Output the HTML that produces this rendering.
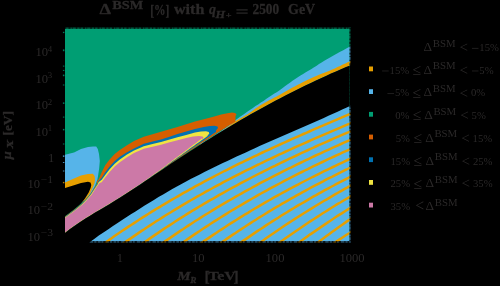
<!DOCTYPE html>
<html><head><meta charset="utf-8"><title>chart</title>
<style>html,body{margin:0;padding:0;background:#000;overflow:hidden}svg{display:block}text{font-family:"Liberation Serif",serif;fill:#2c2a2a}text[font-weight=bold]{stroke:#2c2a2a;stroke-width:0.3px}</style></head>
<body><svg width="500" height="286" viewBox="0 0 500 286">
<rect width="500" height="286" fill="#000"/>
<defs><clipPath id="plot"><rect x="65.00" y="28.80" width="284.50" height="212.30"/></clipPath>
<clipPath id="plotbig"><rect x="65.00" y="27.20" width="285.80" height="215.60"/></clipPath><clipPath id="lowclip"><polygon points="85.0,245.8 89.6,242.3 94.2,238.9 98.8,235.6 103.4,232.5 108.0,229.4 112.6,226.3 117.2,223.3 121.7,220.3 126.3,217.3 130.9,214.3 135.5,211.4 140.1,208.4 144.7,205.5 149.3,202.7 153.9,199.9 158.5,197.1 163.1,194.4 167.7,191.7 172.3,189.1 176.9,186.6 181.5,184.1 186.1,181.6 190.6,179.1 195.2,176.8 199.8,174.4 204.4,172.1 209.0,169.8 213.6,167.5 218.2,165.3 222.8,163.1 227.4,160.9 232.0,158.7 236.6,156.6 241.2,154.5 245.8,152.4 250.4,150.3 254.9,148.2 259.5,146.1 264.1,144.1 268.7,142.1 273.3,140.0 277.9,138.0 282.5,136.0 287.1,134.0 291.7,132.0 296.3,130.0 300.9,128.0 305.5,125.9 310.1,123.9 314.7,121.9 319.3,119.9 323.8,117.9 328.4,115.8 333.0,113.8 337.6,111.7 342.2,109.6 346.8,107.5 351.4,105.4 356.0,103.3 356.0,246.0 85.0,246.0" fill="#000" /></clipPath>
<g id="content">
<rect x="55" y="20" width="305" height="230" fill="#009E73"/>
<polygon points="200.0,143.6 202.6,142.3 205.3,140.9 207.9,139.4 210.6,137.8 213.2,136.2 215.9,134.5 218.5,132.7 221.2,131.0 223.8,129.1 226.4,127.2 229.1,125.2 231.7,123.0 234.4,120.8 237.0,118.9 239.7,117.0 242.3,115.2 244.9,113.4 247.6,111.6 250.2,109.7 252.9,107.9 255.5,106.1 258.2,104.4 260.8,102.6 263.5,100.9 266.1,99.1 268.7,97.3 271.4,95.5 274.0,93.8 276.7,92.2 279.3,90.5 282.0,88.6 284.6,86.6 287.3,84.6 289.9,82.7 292.5,80.8 295.2,78.9 297.8,77.2 300.5,75.5 303.1,73.9 305.8,72.3 308.4,70.8 311.1,69.2 313.7,67.6 316.3,65.9 319.0,64.1 321.6,62.4 324.3,60.8 326.9,59.2 329.6,57.7 332.2,56.2 334.8,54.7 337.5,53.2 340.1,51.8 342.8,50.4 345.4,48.9 348.1,47.5 350.7,46.0 353.4,44.5 356.0,43.0 356.0,63.0 353.4,64.1 350.7,65.2 348.1,66.2 345.4,67.3 342.8,68.5 340.1,69.6 337.5,70.7 334.8,71.9 332.2,73.1 329.6,74.2 326.9,75.4 324.3,76.6 321.6,77.8 319.0,79.0 316.3,80.3 313.7,81.5 311.1,82.8 308.4,84.0 305.8,85.3 303.1,86.6 300.5,87.9 297.8,89.2 295.2,90.5 292.5,91.9 289.9,93.2 287.3,94.6 284.6,95.9 282.0,97.3 279.3,98.7 276.7,100.1 274.0,101.5 271.4,102.9 268.7,104.3 266.1,105.7 263.5,107.2 260.8,108.7 258.2,110.1 255.5,111.6 252.9,113.1 250.2,114.6 247.6,116.1 244.9,117.6 242.3,119.1 239.7,120.7 237.0,122.2 234.4,123.8 231.7,125.3 229.1,126.9 226.4,128.5 223.8,130.1 221.2,131.7 218.5,133.3 215.9,134.9 213.2,136.5 210.6,138.2 207.9,139.8 205.3,141.5 202.6,143.1 200.0,144.8" fill="#56B4E9" />
<polygon points="200.0,144.3 202.6,142.9 205.3,141.4 207.9,139.9 210.6,138.3 213.2,136.7 215.9,135.0 218.5,133.3 221.2,131.6 223.8,129.8 226.4,128.0 229.1,126.0 231.7,123.9 234.4,121.9 237.0,120.2 239.7,118.7 242.3,117.3 244.9,115.8 247.6,114.2 250.2,112.4 252.9,110.5 255.5,108.6 258.2,106.8 260.8,105.1 263.5,103.5 266.1,102.1 268.7,100.6 271.4,99.2 274.0,97.8 276.7,96.4 279.3,94.9 282.0,93.4 284.6,91.9 287.3,90.5 289.9,89.0 292.5,87.6 295.2,86.2 297.8,84.8 300.5,83.4 303.1,82.0 305.8,80.7 308.4,79.4 311.1,78.2 313.7,77.0 316.3,75.9 319.0,74.8 321.6,73.8 324.3,72.8 326.9,71.8 329.6,70.7 332.2,69.5 334.8,68.4 337.5,67.1 340.1,65.9 342.8,64.6 345.4,63.4 348.1,62.1 350.7,60.9 353.4,59.7 356.0,58.5 356.0,63.0 353.4,64.1 350.7,65.2 348.1,66.2 345.4,67.3 342.8,68.5 340.1,69.6 337.5,70.7 334.8,71.9 332.2,73.1 329.6,74.2 326.9,75.4 324.3,76.6 321.6,77.8 319.0,79.0 316.3,80.3 313.7,81.5 311.1,82.8 308.4,84.0 305.8,85.3 303.1,86.6 300.5,87.9 297.8,89.2 295.2,90.5 292.5,91.9 289.9,93.2 287.3,94.6 284.6,95.9 282.0,97.3 279.3,98.7 276.7,100.1 274.0,101.5 271.4,102.9 268.7,104.3 266.1,105.7 263.5,107.2 260.8,108.7 258.2,110.1 255.5,111.6 252.9,113.1 250.2,114.6 247.6,116.1 244.9,117.6 242.3,119.1 239.7,120.7 237.0,122.2 234.4,123.8 231.7,125.3 229.1,126.9 226.4,128.5 223.8,130.1 221.2,131.7 218.5,133.3 215.9,134.9 213.2,136.5 210.6,138.2 207.9,139.8 205.3,141.5 202.6,143.1 200.0,144.8" fill="#E69F00" />
<polygon points="60.0,155.0 65.0,154.7 74.0,152.6 81.0,149.0 88.0,147.0 93.0,146.5 96.2,146.6 97.8,149.0 99.0,154.0 99.8,161.0 99.2,168.0 98.2,175.0 97.3,180.0 95.0,186.0 91.0,193.0 85.0,200.0 60.0,215.0" fill="#56B4E9" />
<polygon points="60.0,184.5 65.0,182.5 74.0,178.6 81.0,175.6 88.0,174.0 92.9,173.7 94.6,176.0 95.0,179.0 94.6,183.0 93.0,187.0 90.0,193.5 85.0,200.0 60.0,216.0" fill="#E69F00" />
<polygon points="60.0,190.0 65.0,188.0 74.0,185.3 81.0,183.0 88.0,181.8 90.5,182.5 91.3,185.0 90.6,188.0 88.7,192.5 85.0,198.6 81.0,203.6 74.0,209.5 65.0,216.3 60.0,220.0" fill="#000" />
<polygon points="96.8,181.5 98.9,179.0 101.7,172.2 105.2,165.2 109.6,159.6 114.7,154.0 119.8,150.0 127.0,145.3 134.0,141.0 143.8,136.7 152.5,134.2 161.0,131.8 168.8,129.5 177.5,127.0 186.2,124.3 195.0,121.6 203.8,119.3 212.5,117.1 221.2,114.6 227.5,113.2 232.0,112.6 235.0,112.9 236.5,114.2 235.5,116.2 235.5,121.5 233.3,122.9 231.1,124.2 228.8,125.6 226.6,127.0 224.4,128.4 222.2,129.8 219.9,131.2 217.7,132.6 215.5,134.0 213.3,135.4 211.1,136.9 208.8,138.3 206.6,139.7 204.4,141.2 202.2,142.6 200.0,144.1 197.7,145.5 195.5,147.0 193.3,148.5 191.1,149.9 188.8,151.4 186.6,152.9 184.4,154.4 182.2,155.9 180.0,157.4 177.7,158.9 175.5,160.4 173.3,161.9 171.1,163.4 168.9,164.9 166.6,166.4 164.4,168.0 162.2,169.5 160.0,171.0 157.7,172.5 155.5,174.1 153.3,175.6 151.1,177.1 148.9,178.6 146.6,180.1 144.4,181.6 142.2,183.1 140.0,184.6 137.8,186.1 135.5,187.5 133.3,189.0 131.1,190.5 128.9,191.9 126.6,193.3 124.4,194.8 122.2,196.2 120.0,197.6 117.8,199.0 115.5,200.4 113.3,201.8 111.1,203.1 108.9,204.5 106.7,205.8 104.4,207.1 102.2,208.4 100.0,209.8 97.8,211.1 95.5,212.4 93.3,213.7 91.1,215.1 88.9,216.4 86.7,217.8 84.4,219.2 82.2,220.7 80.0,222.1 77.8,223.6 75.6,225.1 73.3,226.7 71.1,228.3 68.9,230.0 66.7,231.6 64.4,233.4 62.2,235.1 60.0,237.0 60.3,220.8 65.3,216.6 74.3,209.8 81.4,203.9 85.4,199.8 90.4,193.9 94.4,187.7 96.9,183.9" fill="#D55E00" />
<polygon points="98.2,181.5 101.7,177.8 105.2,172.2 109.6,166.6 114.7,161.0 119.8,156.8 127.0,152.3 134.0,148.4 143.8,143.8 152.5,141.5 161.0,139.4 168.8,137.0 177.5,134.0 186.2,131.5 195.0,128.9 203.8,127.0 210.0,126.0 214.5,125.8 217.5,126.5 218.0,128.0 216.0,130.5 216.0,131.9 214.0,133.2 212.1,134.6 210.1,135.9 208.1,137.2 206.1,138.6 204.2,139.9 202.2,141.3 200.2,142.6 198.2,144.0 196.3,145.3 194.3,146.7 192.3,148.1 190.3,149.4 188.4,150.8 186.4,152.2 184.4,153.5 182.4,154.9 180.5,156.3 178.5,157.7 176.5,159.0 174.5,160.4 172.6,161.8 170.6,163.2 168.6,164.6 166.6,166.0 164.7,167.4 162.7,168.8 160.7,170.1 158.7,171.5 156.8,172.9 154.8,174.3 152.8,175.7 150.8,177.0 148.9,178.4 146.9,179.8 144.9,181.1 142.9,182.4 141.0,183.8 139.0,185.1 137.0,186.4 135.0,187.7 133.1,189.0 131.1,190.3 129.1,191.6 127.1,192.9 125.2,194.2 123.2,195.4 121.2,196.7 119.2,197.9 117.3,199.2 115.3,200.4 113.3,201.6 111.3,202.8 109.4,204.0 107.4,205.2 105.4,206.4 103.4,207.6 101.5,208.7 99.5,209.9 97.5,211.1 95.5,212.2 93.6,213.4 91.6,214.6 89.6,215.8 87.6,217.0 85.7,218.3 83.7,219.5 81.7,220.8 79.7,222.1 77.8,223.5 75.8,224.8 73.8,226.2 71.8,227.6 69.9,229.1 67.9,230.5 65.9,232.1 63.9,233.6 62.0,235.2 60.0,236.8 60.4,221.0 65.5,216.8 74.5,210.0 81.6,204.2 85.6,200.0 90.7,194.1 94.7,188.0 97.2,184.2" fill="#0072B2" />
<polygon points="98.7,182.0 101.7,179.8 105.2,174.9 109.6,169.3 114.7,163.7 119.8,159.4 127.0,154.5 134.0,150.5 143.8,146.2 152.5,144.0 161.0,142.0 168.8,139.8 177.5,137.3 186.2,134.9 195.0,132.6 201.0,131.5 206.0,131.2 208.8,132.0 209.3,133.5 207.5,135.8 207.5,136.1 205.6,137.4 203.8,138.7 201.9,140.1 200.0,141.4 198.2,142.8 196.3,144.1 194.4,145.4 192.6,146.8 190.7,148.1 188.8,149.5 187.0,150.8 185.1,152.2 183.2,153.5 181.4,154.9 179.5,156.2 177.6,157.6 175.8,158.9 173.9,160.3 172.0,161.6 170.2,163.0 168.3,164.3 166.4,165.7 164.6,167.0 162.7,168.4 160.8,169.7 159.0,171.0 157.1,172.4 155.2,173.7 153.4,175.0 151.5,176.3 149.6,177.7 147.8,179.0 145.9,180.3 144.0,181.5 142.2,182.8 140.3,184.1 138.4,185.3 136.6,186.6 134.7,187.8 132.8,189.0 130.9,190.2 129.1,191.5 127.2,192.7 125.3,193.9 123.5,195.1 121.6,196.3 119.7,197.5 117.9,198.6 116.0,199.8 114.1,201.0 112.3,202.1 110.4,203.2 108.5,204.4 106.7,205.5 104.8,206.6 102.9,207.7 101.1,208.8 99.2,209.9 97.3,211.0 95.5,212.1 93.6,213.3 91.7,214.4 89.9,215.5 88.0,216.7 86.1,217.8 84.3,219.0 82.4,220.2 80.5,221.5 78.7,222.7 76.8,224.0 74.9,225.3 73.1,226.6 71.2,227.9 69.3,229.3 67.5,230.7 65.6,232.2 63.7,233.6 61.9,235.1 60.0,236.7 60.6,221.2 65.7,216.9 74.8,210.2 81.8,204.4 85.9,200.2 90.9,194.4 95.0,188.2 97.5,184.5" fill="#F0E442" />
<polygon points="99.5,183.0 101.7,182.3 105.2,177.5 109.6,171.9 114.7,166.5 119.8,162.2 127.0,157.2 134.0,153.0 143.8,148.8 152.5,146.7 161.0,144.8 168.8,142.6 177.5,140.3 186.2,138.0 193.0,136.6 199.0,136.0 202.5,136.4 203.5,137.5 202.0,139.6 202.0,138.3 200.2,139.7 198.4,141.0 196.6,142.4 194.8,143.8 193.0,145.1 191.2,146.5 189.4,147.8 187.6,149.2 185.8,150.5 184.0,151.9 182.2,153.2 180.4,154.6 178.6,155.9 176.8,157.3 175.0,158.6 173.2,160.0 171.4,161.3 169.6,162.7 167.8,164.0 166.1,165.4 164.3,166.7 162.5,168.0 160.7,169.4 158.9,170.7 157.1,172.0 155.3,173.3 153.5,174.6 151.7,175.9 149.9,177.2 148.1,178.5 146.3,179.8 144.5,181.0 142.7,182.2 140.9,183.5 139.1,184.7 137.3,185.9 135.5,187.1 133.7,188.2 131.9,189.4 130.1,190.6 128.3,191.8 126.5,192.9 124.7,194.1 122.9,195.2 121.1,196.4 119.3,197.5 117.5,198.7 115.7,199.8 113.9,200.9 112.1,202.0 110.3,203.1 108.5,204.2 106.7,205.2 104.9,206.3 103.1,207.4 101.3,208.4 99.5,209.5 97.7,210.6 95.9,211.7 94.2,212.7 92.4,213.8 90.6,214.9 88.8,216.0 87.0,217.1 85.2,218.3 83.4,219.4 81.6,220.6 79.8,221.8 78.0,223.0 76.2,224.2 74.4,225.5 72.6,226.7 70.8,228.1 69.0,229.4 67.2,230.7 65.4,232.1 63.6,233.5 61.8,235.0 60.0,236.5 60.9,221.5 66.0,217.3 75.1,210.6 82.3,204.8 86.3,200.7 91.4,194.9 95.5,188.7 98.0,185.0" fill="#CC79A7" />
<polygon points="60.0,237.0 65.0,232.9 70.0,229.1 75.1,225.5 80.1,222.1 85.1,218.8 90.1,215.7 95.1,212.6 100.1,209.7 105.2,206.7 110.2,203.7 115.2,200.6 120.2,197.5 125.2,194.3 130.2,191.0 135.3,187.7 140.3,184.4 145.3,181.0 150.3,177.7 155.3,174.3 160.3,170.9 165.4,167.5 170.4,164.1 175.4,160.8 180.4,157.5 185.4,154.2 190.4,150.9 195.5,147.7 200.5,144.5 205.5,141.3 210.5,138.2 215.5,135.1 220.5,132.0 225.6,129.0 230.6,126.0 235.6,123.0 240.6,120.1 245.6,117.2 250.6,114.3 255.7,111.5 260.7,108.7 265.7,106.0 270.7,103.3 275.7,100.6 280.7,97.9 285.8,95.3 290.8,92.8 295.8,90.2 300.8,87.7 305.8,85.3 310.8,82.9 315.9,80.5 320.9,78.2 325.9,75.9 330.9,73.6 335.9,71.4 340.9,69.2 346.0,67.1 351.0,65.0 356.0,63.0 356.0,246.0 60.0,246.0" fill="#000" />
<polygon points="85.0,245.8 89.6,242.3 94.2,238.9 98.8,235.6 103.4,232.5 108.0,229.4 112.6,226.3 117.2,223.3 121.7,220.3 126.3,217.3 130.9,214.3 135.5,211.4 140.1,208.4 144.7,205.5 149.3,202.7 153.9,199.9 158.5,197.1 163.1,194.4 167.7,191.7 172.3,189.1 176.9,186.6 181.5,184.1 186.1,181.6 190.6,179.1 195.2,176.8 199.8,174.4 204.4,172.1 209.0,169.8 213.6,167.5 218.2,165.3 222.8,163.1 227.4,160.9 232.0,158.7 236.6,156.6 241.2,154.5 245.8,152.4 250.4,150.3 254.9,148.2 259.5,146.1 264.1,144.1 268.7,142.1 273.3,140.0 277.9,138.0 282.5,136.0 287.1,134.0 291.7,132.0 296.3,130.0 300.9,128.0 305.5,125.9 310.1,123.9 314.7,121.9 319.3,119.9 323.8,117.9 328.4,115.8 333.0,113.8 337.6,111.7 342.2,109.6 346.8,107.5 351.4,105.4 356.0,103.3 356.0,246.0 85.0,246.0" fill="#56B4E9" />
<polyline points="96.0,249.3 98.9,247.2 101.8,245.1 104.8,243.0 107.7,240.9 110.6,238.9 113.5,236.8 116.4,234.8 119.4,232.8 122.3,230.8 125.2,228.9 128.1,226.9 131.1,225.0 134.0,223.1 136.9,221.2 139.8,219.3 142.7,217.4 145.7,215.6 148.6,213.8 151.5,211.9 154.4,210.1 157.3,208.3 160.3,206.6 163.2,204.8 166.1,203.1 169.0,201.4 172.0,199.6 174.9,198.0 177.8,196.3 180.7,194.6 183.6,192.9 186.6,191.3 189.5,189.7 192.4,188.1 195.3,186.4 198.2,184.9 201.2,183.3 204.1,181.7 207.0,180.1 209.9,178.6 212.9,177.1 215.8,175.5 218.7,174.0 221.6,172.5 224.5,171.0 227.5,169.6 230.4,168.1 233.3,166.6 236.2,165.2 239.1,163.7 242.1,162.3 245.0,160.9 247.9,159.5 250.8,158.1 253.8,156.7 256.7,155.3 259.6,153.9 262.5,152.5 265.4,151.2 268.4,149.8 271.3,148.5 274.2,147.1 277.1,145.8 280.0,144.5 283.0,143.1 285.9,141.8 288.8,140.5 291.7,139.2 294.7,137.9 297.6,136.6 300.5,135.3 303.4,134.0 306.3,132.8 309.3,131.5 312.2,130.2 315.1,128.9 318.0,127.7 320.9,126.4 323.9,125.2 326.8,123.9 329.7,122.7 332.6,121.4 335.6,120.2 338.5,118.9 341.4,117.7 344.3,116.4 347.2,115.2 350.2,114.0 353.1,112.7 356.0,111.5" fill="none" stroke="#E69F00" stroke-width="2.50" clip-path="url(#lowclip)"/>
<polyline points="115.3,249.3 118.3,247.2 121.2,245.1 124.1,243.0 127.0,240.9 130.0,238.9 132.9,236.9 135.8,234.9 138.7,232.9 141.6,230.9 144.6,229.0 147.5,227.0 150.4,225.1 153.3,223.2 156.2,221.3 159.2,219.5 162.1,217.6 165.0,215.8 167.9,214.0 170.9,212.2 173.8,210.4 176.7,208.6 179.6,206.9 182.5,205.1 185.5,203.4 188.4,201.7 191.3,200.0 194.2,198.3 197.1,196.7 200.1,195.0 203.0,193.4 205.9,191.7 208.8,190.1 211.8,188.5 214.7,186.9 217.6,185.3 220.5,183.8 223.4,182.2 226.4,180.7 229.3,179.2 232.2,177.6 235.1,176.1 238.0,174.6 241.0,173.2 243.9,171.7 246.8,170.2 249.7,168.8 252.7,167.3 255.6,165.9 258.5,164.5 261.4,163.0 264.3,161.6 267.3,160.2 270.2,158.9 273.1,157.5 276.0,156.1 278.9,154.7 281.9,153.4 284.8,152.0 287.7,150.7 290.6,149.4 293.6,148.0 296.5,146.7 299.4,145.4 302.3,144.1 305.2,142.8 308.2,141.5 311.1,140.2 314.0,138.9 316.9,137.6 319.8,136.4 322.8,135.1 325.7,133.8 328.6,132.6 331.5,131.3 334.5,130.1 337.4,128.8 340.3,127.6 343.2,126.3 346.1,125.1 349.1,123.9 352.0,122.6 354.9,121.4 357.8,120.1" fill="none" stroke="#E69F00" stroke-width="2.50" clip-path="url(#lowclip)"/>
<polyline points="134.7,249.3 137.6,247.2 140.5,245.1 143.5,243.0 146.4,240.9 149.3,238.9 152.2,236.9 155.1,234.9 158.1,232.9 161.0,230.9 163.9,228.9 166.8,227.0 169.8,225.1 172.7,223.2 175.6,221.3 178.5,219.4 181.4,217.6 184.4,215.8 187.3,213.9 190.2,212.1 193.1,210.3 196.0,208.6 199.0,206.8 201.9,205.1 204.8,203.3 207.7,201.6 210.7,199.9 213.6,198.3 216.5,196.6 219.4,194.9 222.3,193.3 225.3,191.7 228.2,190.0 231.1,188.4 234.0,186.8 236.9,185.3 239.9,183.7 242.8,182.1 245.7,180.6 248.6,179.1 251.6,177.5 254.5,176.0 257.4,174.5 260.3,173.0 263.2,171.6 266.2,170.1 269.1,168.6 272.0,167.2 274.9,165.8 277.8,164.3 280.8,162.9 283.7,161.5 286.6,160.1 289.5,158.7 292.5,157.3 295.4,156.0 298.3,154.6 301.2,153.2 304.1,151.9 307.1,150.5 310.0,149.2 312.9,147.9 315.8,146.5 318.7,145.2 321.7,143.9 324.6,142.6 327.5,141.3 330.4,140.0 333.4,138.7 336.3,137.4 339.2,136.2 342.1,134.9 345.0,133.6 348.0,132.4 350.9,131.1 353.8,129.8 356.7,128.6" fill="none" stroke="#E69F00" stroke-width="2.50" clip-path="url(#lowclip)"/>
<polyline points="154.1,249.3 157.0,247.2 159.9,245.1 162.8,243.0 165.7,240.9 168.7,238.9 171.6,236.9 174.5,234.9 177.4,232.9 180.3,230.9 183.3,229.0 186.2,227.0 189.1,225.1 192.0,223.2 194.9,221.3 197.9,219.5 200.8,217.6 203.7,215.8 206.6,214.0 209.6,212.2 212.5,210.4 215.4,208.6 218.3,206.8 221.2,205.1 224.2,203.4 227.1,201.7 230.0,200.0 232.9,198.3 235.8,196.6 238.8,195.0 241.7,193.3 244.6,191.7 247.5,190.1 250.5,188.5 253.4,186.9 256.3,185.3 259.2,183.7 262.1,182.2 265.1,180.6 268.0,179.1 270.9,177.6 273.8,176.1 276.7,174.6 279.7,173.1 282.6,171.6 285.5,170.2 288.4,168.7 291.4,167.3 294.3,165.8 297.2,164.4 300.1,163.0 303.0,161.6 306.0,160.2 308.9,158.8 311.8,157.4 314.7,156.0 317.6,154.7 320.6,153.3 323.5,151.9 326.4,150.6 329.3,149.3 332.3,147.9 335.2,146.6 338.1,145.3 341.0,144.0 343.9,142.7 346.9,141.4 349.8,140.1 352.7,138.8 355.6,137.5" fill="none" stroke="#E69F00" stroke-width="2.50" clip-path="url(#lowclip)"/>
<polyline points="173.4,249.3 176.3,247.2 179.2,245.1 182.2,243.0 185.1,240.9 188.0,238.9 190.9,236.9 193.8,234.9 196.8,232.9 199.7,231.0 202.6,229.0 205.5,227.1 208.5,225.2 211.4,223.3 214.3,221.4 217.2,219.6 220.1,217.7 223.1,215.9 226.0,214.1 228.9,212.3 231.8,210.5 234.7,208.8 237.7,207.0 240.6,205.3 243.5,203.6 246.4,201.9 249.4,200.2 252.3,198.5 255.2,196.8 258.1,195.2 261.0,193.5 264.0,191.9 266.9,190.3 269.8,188.7 272.7,187.1 275.6,185.6 278.6,184.0 281.5,182.5 284.4,180.9 287.3,179.4 290.3,177.9 293.2,176.4 296.1,174.9 299.0,173.4 301.9,172.0 304.9,170.5 307.8,169.1 310.7,167.6 313.6,166.2 316.5,164.8 319.5,163.4 322.4,162.0 325.3,160.6 328.2,159.2 331.2,157.8 334.1,156.5 337.0,155.1 339.9,153.8 342.8,152.4 345.8,151.1 348.7,149.8 351.6,148.4 354.5,147.1 357.4,145.8" fill="none" stroke="#E69F00" stroke-width="2.50" clip-path="url(#lowclip)"/>
<polyline points="192.8,249.3 195.7,247.2 198.6,245.1 201.5,243.0 204.4,240.9 207.4,238.9 210.3,236.9 213.2,234.9 216.1,233.0 219.0,231.0 222.0,229.1 224.9,227.2 227.8,225.3 230.7,223.4 233.6,221.6 236.6,219.8 239.5,217.9 242.4,216.1 245.3,214.3 248.3,212.6 251.2,210.8 254.1,209.0 257.0,207.3 259.9,205.6 262.9,203.9 265.8,202.2 268.7,200.5 271.6,198.9 274.5,197.2 277.5,195.6 280.4,194.0 283.3,192.4 286.2,190.8 289.2,189.2 292.1,187.7 295.0,186.1 297.9,184.6 300.8,183.0 303.8,181.5 306.7,180.0 309.6,178.5 312.5,177.0 315.4,175.6 318.4,174.1 321.3,172.7 324.2,171.2 327.1,169.8 330.1,168.4 333.0,167.0 335.9,165.6 338.8,164.2 341.7,162.8 344.7,161.4 347.6,160.0 350.5,158.7 353.4,157.3 356.3,155.9" fill="none" stroke="#E69F00" stroke-width="2.50" clip-path="url(#lowclip)"/>
<polyline points="212.1,249.3 215.0,247.2 217.9,245.1 220.9,243.0 223.8,240.9 226.7,238.9 229.6,236.9 232.5,234.9 235.5,233.0 238.4,231.0 241.3,229.1 244.2,227.2 247.2,225.3 250.1,223.4 253.0,221.5 255.9,219.7 258.8,217.8 261.8,216.0 264.7,214.2 267.6,212.4 270.5,210.7 273.4,208.9 276.4,207.2 279.3,205.5 282.2,203.7 285.1,202.1 288.1,200.4 291.0,198.7 293.9,197.1 296.8,195.4 299.7,193.8 302.7,192.2 305.6,190.6 308.5,189.0 311.4,187.4 314.3,185.9 317.3,184.3 320.2,182.8 323.1,181.3 326.0,179.7 329.0,178.2 331.9,176.8 334.8,175.3 337.7,173.8 340.6,172.3 343.6,170.9 346.5,169.5 349.4,168.0 352.3,166.6 355.2,165.1" fill="none" stroke="#E69F00" stroke-width="2.50" clip-path="url(#lowclip)"/>
<polyline points="231.5,249.3 234.4,247.2 237.3,245.1 240.2,243.0 243.1,240.9 246.1,238.9 249.0,236.9 251.9,234.9 254.8,232.9 257.7,230.9 260.7,229.0 263.6,227.1 266.5,225.1 269.4,223.2 272.3,221.4 275.3,219.5 278.2,217.7 281.1,215.8 284.0,214.0 287.0,212.2 289.9,210.4 292.8,208.7 295.7,206.9 298.6,205.2 301.6,203.5 304.5,201.8 307.4,200.1 310.3,198.4 313.2,196.7 316.2,195.1 319.1,193.4 322.0,191.8 324.9,190.2 327.9,188.6 330.8,187.0 333.7,185.5 336.6,183.9 339.5,182.3 342.5,180.8 345.4,179.3 348.3,177.8 351.2,176.2 354.1,174.7 357.1,173.2" fill="none" stroke="#E69F00" stroke-width="2.50" clip-path="url(#lowclip)"/>
<polyline points="250.8,249.3 253.7,247.2 256.6,245.1 259.6,243.0 262.5,240.9 265.4,238.8 268.3,236.8 271.2,234.8 274.2,232.7 277.1,230.7 280.0,228.8 282.9,226.8 285.9,224.8 288.8,222.9 291.7,221.0 294.6,219.1 297.5,217.2 300.5,215.4 303.4,213.5 306.3,211.7 309.2,209.9 312.1,208.1 315.1,206.3 318.0,204.5 320.9,202.7 323.8,201.0 326.8,199.3 329.7,197.6 332.6,195.9 335.5,194.2 338.4,192.5 341.4,190.8 344.3,189.2 347.2,187.6 350.1,185.9 353.0,184.4 356.0,182.8" fill="none" stroke="#E69F00" stroke-width="2.50" clip-path="url(#lowclip)"/>
<polyline points="270.1,249.3 273.1,247.2 276.0,245.1 278.9,243.0 281.8,240.9 284.8,238.8 287.7,236.8 290.6,234.7 293.5,232.7 296.4,230.7 299.4,228.7 302.3,226.7 305.2,224.7 308.1,222.8 311.0,220.9 314.0,219.0 316.9,217.1 319.8,215.2 322.7,213.3 325.7,211.5 328.6,209.6 331.5,207.8 334.4,206.0 337.3,204.2 340.3,202.5 343.2,200.7 346.1,199.0 349.0,197.3 351.9,195.6 354.9,193.9 357.8,192.2" fill="none" stroke="#E69F00" stroke-width="2.50" clip-path="url(#lowclip)"/>
<polyline points="289.5,249.3 292.4,247.2 295.3,245.1 298.3,243.0 301.2,240.9 304.1,238.8 307.0,236.7 309.9,234.6 312.9,232.6 315.8,230.6 318.7,228.6 321.6,226.6 324.6,224.6 327.5,222.6 330.4,220.7 333.3,218.8 336.2,216.8 339.2,214.9 342.1,213.1 345.0,211.2 347.9,209.4 350.8,207.5 353.8,205.8 356.7,204.0" fill="none" stroke="#E69F00" stroke-width="2.50" clip-path="url(#lowclip)"/>
<polyline points="308.2,249.3 311.2,247.2 314.1,245.1 317.0,243.0 319.9,240.9 322.9,238.7 325.8,236.5 328.7,234.4 331.6,232.3 334.5,230.2 337.5,228.1 340.4,226.0 343.3,223.9 346.2,221.9 349.1,219.9 352.1,218.0 355.0,216.1 357.9,214.3" fill="none" stroke="#E69F00" stroke-width="2.50" clip-path="url(#lowclip)"/>
<polyline points="325.4,249.3 328.3,247.2 331.2,245.1 334.2,243.0 337.1,241.0 340.0,239.1 342.9,237.2 345.8,235.3 348.8,233.5 351.7,231.5 354.6,229.6 357.5,227.6" fill="none" stroke="#E69F00" stroke-width="2.50" clip-path="url(#lowclip)"/>
<polyline points="347.6,249.3 350.5,247.2 353.4,245.1 356.3,243.0" fill="none" stroke="#E69F00" stroke-width="2.50" clip-path="url(#lowclip)"/>
</g></defs>
<g clip-path="url(#plotbig)" opacity="0.42"><use href="#content"/></g>
<g clip-path="url(#plot)"><use href="#content"/></g>
<g fill="none" stroke="#000">
<path d="M65 28.1H351" stroke-width="1.5" stroke-dasharray="1.2 2.3 2 1.4 0.8 3.1 1.5 2.2" opacity="0.75"/>
<path d="M65 242H351" stroke-width="1.9" stroke-dasharray="1.5 2.6 1 1.8 2.2 3.3 1.2 2.1" opacity="0.7"/>
<path d="M350.2 28V243" stroke-width="1.5" stroke-dasharray="1.3 2.2 1.9 1.5 0.9 2.8" opacity="0.7"/>
</g>
<rect x="62.9" y="31.8" width="1.5" height="1.3" fill="#009E73" opacity="0.8"/><rect x="62.9" y="49.4" width="1.5" height="1.8" fill="#009E73" opacity="0.8"/><rect x="62.9" y="65.6" width="1.5" height="1.0" fill="#009E73" opacity="0.8"/><rect x="62.9" y="69.9" width="1.5" height="1.0" fill="#009E73" opacity="0.8"/><rect x="62.9" y="74.6" width="1.5" height="1.6" fill="#009E73" opacity="0.8"/><rect x="62.9" y="84.5" width="1.5" height="1.0" fill="#009E73" opacity="0.8"/><rect x="62.9" y="102.4" width="1.5" height="1.5" fill="#009E73" opacity="0.8"/><rect x="62.9" y="116.6" width="1.5" height="1.0" fill="#009E73" opacity="0.8"/><rect x="62.9" y="128.9" width="1.5" height="1.5" fill="#009E73" opacity="0.8"/><rect x="62.9" y="143.5" width="1.5" height="1.0" fill="#009E73" opacity="0.8"/><rect x="62.9" y="155.4" width="1.5" height="1.5" fill="#56B4E9" opacity="0.8"/><rect x="62.9" y="162.0" width="1.5" height="1.0" fill="#56B4E9" opacity="0.8"/><rect x="62.9" y="170.5" width="1.5" height="1.0" fill="#56B4E9" opacity="0.8"/><rect x="62.9" y="181.9" width="1.5" height="1.4" fill="#E69F00" opacity="0.8"/>
<g opacity="0.999" style="isolation:isolate">
<text x="99.5" y="14.0" font-size="15.0" font-weight="bold" text-anchor="start" textLength="11.5" lengthAdjust="spacingAndGlyphs">&#916;</text>
<text x="112.2" y="9.0" font-size="12.0" font-weight="bold" text-anchor="start" textLength="31" lengthAdjust="spacingAndGlyphs">BSM</text>
<text x="150.2" y="14.6" font-size="15.0" font-weight="bold" text-anchor="start" textLength="19.2" lengthAdjust="spacingAndGlyphs">[%]</text>
<text x="174.0" y="14.1" font-size="14.0" font-weight="bold" text-anchor="start" textLength="30.4" lengthAdjust="spacingAndGlyphs">with</text>
<text x="209.0" y="14.1" font-size="14.0" font-weight="bold" text-anchor="start" font-style="italic">q</text>
<text x="215.4" y="18.4" font-size="9.5" font-weight="bold" text-anchor="start" font-style="italic" textLength="9.6" lengthAdjust="spacingAndGlyphs">H</text>
<text x="225.8" y="17.6" font-size="8.5" font-weight="bold" text-anchor="start" textLength="5.8" lengthAdjust="spacingAndGlyphs">+</text>
<rect x="236.4" y="9.3" width="11.3" height="1.2" fill="#2c2a2a"/><rect x="236.4" y="12.5" width="11.3" height="1.2" fill="#2c2a2a"/>
<text x="252.5" y="14.1" font-size="14.0" font-weight="bold" text-anchor="start" textLength="26.7" lengthAdjust="spacingAndGlyphs">2500</text>
<text x="288.0" y="14.1" font-size="14.0" font-weight="bold" text-anchor="start" textLength="27.2" lengthAdjust="spacingAndGlyphs">GeV</text>
<text x="35.4" y="56.0" font-size="12.6" font-weight="normal" text-anchor="start" >10</text>
<text x="47.8" y="51.6" font-size="8.8" font-weight="normal" text-anchor="start" >4</text>
<text x="35.4" y="82.5" font-size="12.6" font-weight="normal" text-anchor="start" >10</text>
<text x="47.8" y="78.1" font-size="8.8" font-weight="normal" text-anchor="start" >3</text>
<text x="35.4" y="109.0" font-size="12.6" font-weight="normal" text-anchor="start" >10</text>
<text x="47.8" y="104.6" font-size="8.8" font-weight="normal" text-anchor="start" >2</text>
<text x="35.4" y="135.5" font-size="12.6" font-weight="normal" text-anchor="start" >10</text>
<text x="47.8" y="131.1" font-size="8.8" font-weight="normal" text-anchor="start" >1</text>
<text x="47.9" y="162.0" font-size="12.6" font-weight="normal" text-anchor="start" >1</text>
<text x="27.4" y="187.7" font-size="12.6" font-weight="normal" text-anchor="start" >10</text>
<text x="40.6" y="183.1" font-size="9.3" font-weight="normal" text-anchor="start" textLength="12.4" lengthAdjust="spacingAndGlyphs">&#8722;1</text>
<text x="27.4" y="214.2" font-size="12.6" font-weight="normal" text-anchor="start" >10</text>
<text x="40.6" y="209.6" font-size="9.3" font-weight="normal" text-anchor="start" textLength="12.4" lengthAdjust="spacingAndGlyphs">&#8722;2</text>
<text x="27.4" y="240.7" font-size="12.6" font-weight="normal" text-anchor="start" >10</text>
<text x="40.6" y="236.1" font-size="9.3" font-weight="normal" text-anchor="start" textLength="12.4" lengthAdjust="spacingAndGlyphs">&#8722;3</text>
<text x="119.8" y="261.9" font-size="12.6" font-weight="normal" text-anchor="middle" >1</text>
<text x="198.3" y="261.9" font-size="12.6" font-weight="normal" text-anchor="middle" >10</text>
<text x="275.0" y="261.9" font-size="12.6" font-weight="normal" text-anchor="middle" >100</text>
<text x="352.0" y="261.9" font-size="12.6" font-weight="normal" text-anchor="middle" >1000</text>
<text x="177.2" y="279.6" font-size="12.0" font-weight="bold" text-anchor="start" font-style="italic" textLength="13.4" lengthAdjust="spacingAndGlyphs">M</text>
<text x="190.2" y="283.4" font-size="8.3" font-weight="bold" text-anchor="start" font-style="italic" textLength="6.2" lengthAdjust="spacingAndGlyphs">R</text>
<text x="204.6" y="280.6" font-size="15.5" font-weight="bold" text-anchor="start" >[</text><text x="208.2" y="279.6" font-size="12.6" font-weight="bold" text-anchor="start" textLength="27.6" lengthAdjust="spacingAndGlyphs">TeV</text><text x="233.6" y="280.6" font-size="15.5" font-weight="bold" text-anchor="start" >]</text>
<g transform="translate(11,159.2) rotate(-90)"><text x="0.0" y="0.0" font-size="12.0" font-weight="bold" text-anchor="start" font-style="italic" textLength="8" lengthAdjust="spacingAndGlyphs">&#956;</text><text x="10.5" y="2.4" font-size="8.3" font-weight="bold" text-anchor="start" font-style="italic" textLength="9" lengthAdjust="spacingAndGlyphs">X</text><text x="23.7" y="0.6" font-size="12.6" font-weight="bold" text-anchor="start" textLength="24.5" lengthAdjust="spacingAndGlyphs">[eV]</text></g>
<text x="423.6" y="51.0" font-size="12.0" font-weight="normal" text-anchor="start" textLength="8.6" lengthAdjust="spacingAndGlyphs">&#916;</text>
<text x="432.8" y="46.6" font-size="10.4" font-weight="normal" text-anchor="start" textLength="22.8" lengthAdjust="spacingAndGlyphs">BSM</text>
<text x="463.8" y="52.2" font-size="15.0" font-weight="normal" text-anchor="middle" >&lt;</text>
<rect x="471.9" y="47.9" width="6.6" height="0.75" fill="#2c2a2a"/>
<text x="479.3" y="51.0" font-size="10.7" font-weight="normal" text-anchor="start" >15%</text>
<rect x="369" y="66.5" width="4" height="4.8" fill="#E69F00"/>
<text x="423.6" y="73.7" font-size="12.0" font-weight="normal" text-anchor="start" textLength="8.6" lengthAdjust="spacingAndGlyphs">&#916;</text>
<text x="432.8" y="69.3" font-size="10.4" font-weight="normal" text-anchor="start" textLength="22.8" lengthAdjust="spacingAndGlyphs">BSM</text>
<text x="409.2" y="73.7" font-size="10.7" font-weight="normal" text-anchor="end" >15%</text>
<rect x="382.1" y="70.6" width="6.6" height="0.75" fill="#2c2a2a"/>
<text x="416.7" y="75.0" font-size="15.7" font-weight="normal" text-anchor="middle" >&#8804;</text>
<text x="463.8" y="74.9" font-size="15.0" font-weight="normal" text-anchor="middle" >&lt;</text>
<rect x="471.9" y="70.6" width="6.6" height="0.75" fill="#2c2a2a"/>
<text x="479.3" y="73.7" font-size="10.7" font-weight="normal" text-anchor="start" >5%</text>
<rect x="369" y="89.2" width="4" height="4.8" fill="#56B4E9"/>
<text x="423.6" y="96.4" font-size="12.0" font-weight="normal" text-anchor="start" textLength="8.6" lengthAdjust="spacingAndGlyphs">&#916;</text>
<text x="432.8" y="92.0" font-size="10.4" font-weight="normal" text-anchor="start" textLength="22.8" lengthAdjust="spacingAndGlyphs">BSM</text>
<text x="409.2" y="96.4" font-size="10.7" font-weight="normal" text-anchor="end" >5%</text>
<rect x="387.4" y="93.3" width="6.6" height="0.75" fill="#2c2a2a"/>
<text x="416.7" y="97.7" font-size="15.7" font-weight="normal" text-anchor="middle" >&#8804;</text>
<text x="463.8" y="97.6" font-size="15.0" font-weight="normal" text-anchor="middle" >&lt;</text>
<text x="471.0" y="96.4" font-size="10.7" font-weight="normal" text-anchor="start" >0%</text>
<rect x="369" y="111.9" width="4" height="4.8" fill="#009E73"/>
<text x="424.2" y="119.1" font-size="12.0" font-weight="normal" text-anchor="start" textLength="8.6" lengthAdjust="spacingAndGlyphs">&#916;</text>
<text x="433.4" y="114.7" font-size="10.4" font-weight="normal" text-anchor="start" textLength="22.8" lengthAdjust="spacingAndGlyphs">BSM</text>
<text x="409.5" y="119.1" font-size="10.7" font-weight="normal" text-anchor="end" >0%</text>
<text x="417.1" y="120.4" font-size="15.7" font-weight="normal" text-anchor="middle" >&#8804;</text>
<text x="464.4" y="120.3" font-size="15.0" font-weight="normal" text-anchor="middle" >&lt;</text>
<text x="471.6" y="119.1" font-size="10.7" font-weight="normal" text-anchor="start" >5%</text>
<rect x="369" y="134.6" width="4" height="4.8" fill="#D55E00"/>
<text x="425.2" y="141.8" font-size="12.0" font-weight="normal" text-anchor="start" textLength="8.6" lengthAdjust="spacingAndGlyphs">&#916;</text>
<text x="434.4" y="137.4" font-size="10.4" font-weight="normal" text-anchor="start" textLength="22.8" lengthAdjust="spacingAndGlyphs">BSM</text>
<text x="409.9" y="141.8" font-size="10.7" font-weight="normal" text-anchor="end" >5%</text>
<text x="417.7" y="143.1" font-size="15.7" font-weight="normal" text-anchor="middle" >&#8804;</text>
<text x="465.4" y="143.0" font-size="15.0" font-weight="normal" text-anchor="middle" >&lt;</text>
<text x="472.6" y="141.8" font-size="10.7" font-weight="normal" text-anchor="start" >15%</text>
<rect x="369" y="157.3" width="4" height="4.8" fill="#0072B2"/>
<text x="425.5" y="164.5" font-size="12.0" font-weight="normal" text-anchor="start" textLength="8.6" lengthAdjust="spacingAndGlyphs">&#916;</text>
<text x="434.7" y="160.1" font-size="10.4" font-weight="normal" text-anchor="start" textLength="22.8" lengthAdjust="spacingAndGlyphs">BSM</text>
<text x="410.1" y="164.5" font-size="10.7" font-weight="normal" text-anchor="end" >15%</text>
<text x="417.8" y="165.8" font-size="15.7" font-weight="normal" text-anchor="middle" >&#8804;</text>
<text x="465.7" y="165.7" font-size="15.0" font-weight="normal" text-anchor="middle" >&lt;</text>
<text x="472.9" y="164.5" font-size="10.7" font-weight="normal" text-anchor="start" >25%</text>
<rect x="369" y="180.0" width="4" height="4.8" fill="#F0E442"/>
<text x="425.6" y="187.2" font-size="12.0" font-weight="normal" text-anchor="start" textLength="8.6" lengthAdjust="spacingAndGlyphs">&#916;</text>
<text x="434.8" y="182.8" font-size="10.4" font-weight="normal" text-anchor="start" textLength="22.8" lengthAdjust="spacingAndGlyphs">BSM</text>
<text x="410.1" y="187.2" font-size="10.7" font-weight="normal" text-anchor="end" >25%</text>
<text x="417.9" y="188.5" font-size="15.7" font-weight="normal" text-anchor="middle" >&#8804;</text>
<text x="465.8" y="188.4" font-size="15.0" font-weight="normal" text-anchor="middle" >&lt;</text>
<text x="473.0" y="187.2" font-size="10.7" font-weight="normal" text-anchor="start" >35%</text>
<rect x="369" y="202.7" width="4" height="4.8" fill="#CC79A7"/>
<text x="425.6" y="209.9" font-size="12.0" font-weight="normal" text-anchor="start" textLength="8.6" lengthAdjust="spacingAndGlyphs">&#916;</text>
<text x="434.8" y="205.5" font-size="10.4" font-weight="normal" text-anchor="start" textLength="22.8" lengthAdjust="spacingAndGlyphs">BSM</text>
<text x="410.1" y="209.9" font-size="10.7" font-weight="normal" text-anchor="end" >35%</text>
<text x="419.6" y="211.2" font-size="15.7" font-weight="normal" text-anchor="middle" >&lt;</text>
</g>
</svg></body></html>
